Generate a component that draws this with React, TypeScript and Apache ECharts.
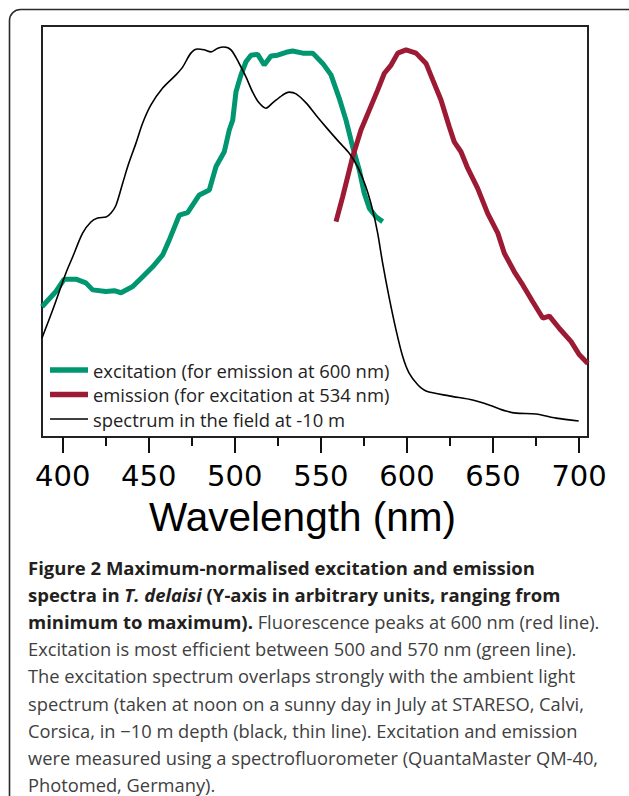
import React, { useEffect, useRef } from "react";
import * as echarts from "echarts";

// Wavelengths (nm) and normalised values (0 = minimum, 100 = maximum of plot box)
const spectrumNm = [388, 394.2, 401.9, 405.8, 411.6, 416.4, 420.3, 425.2, 428.1, 431, 434.9, 438.5, 442.6, 446.5, 451.3, 458.1, 465.8, 469.7, 474.5, 478.4, 482.1, 486.2, 490.1, 493.7, 497.8, 502.4, 506.5, 510.4, 514.1, 518.1, 522, 527.8, 531.5, 535.6, 541.4, 547.2, 553, 560.5, 566.4, 571.4, 576.2, 580.1, 583, 585.9, 589.6, 593.7, 597.6, 601.2, 606.3, 611.1, 624.5, 638.2, 647.7, 657.6, 663.4, 675, 686.6, 699.8];
const spectrumVal = [24.1, 30.9, 39.9, 43.8, 49.6, 52.3, 53.3, 53.5, 54.5, 56.4, 61.8, 66.7, 71.5, 76.4, 80.8, 84.9, 88.1, 90, 93.4, 94.4, 94.2, 93.7, 94.6, 94.9, 94.2, 91, 87.6, 83.9, 81.3, 80, 81.3, 83.2, 83.9, 83.5, 81.3, 78.3, 75.4, 71.8, 69.1, 65.7, 60.8, 55.2, 49.6, 42.3, 34.1, 26, 19.5, 15.6, 12.7, 11.2, 10, 9, 7.8, 6.3, 5.8, 5.6, 4.6, 3.9];

const excitationNm = [388, 396.1, 400.9, 407.7, 413.5, 417.4, 425.2, 430, 433.9, 440.7, 446.5, 452.3, 458.1, 461.9, 467.8, 472.6, 479.4, 485.2, 489.1, 493.9, 496.8, 498.8, 500.7, 503.6, 506.5, 509.4, 513.3, 517.1, 521, 524.9, 529.8, 533.6, 539.5, 545.3, 551.1, 555.9, 560.7, 564.6, 568.5, 572.3, 575.2, 578.2, 582, 585.9];
const excitationVal = [31.7, 35.4, 38.4, 38.4, 37.5, 35.8, 35.4, 35.6, 35.1, 36.6, 39, 41.4, 44.3, 47.9, 54, 54.6, 58.9, 60.1, 65.8, 69.4, 74.7, 77.1, 84, 88.1, 91.3, 92.9, 93.1, 90.5, 92.7, 92.9, 93.6, 93.9, 93.4, 93.4, 90.9, 88.1, 82.4, 77.1, 70.6, 65, 59.3, 55.6, 53.6, 52.4];

const emissionNm = [558.8, 562.7, 568.5, 573.3, 578.2, 583, 586.9, 590.8, 594.7, 599.5, 605.3, 611.1, 615, 619.8, 624.6, 627.5, 631.4, 635.3, 641.1, 646.9, 652.8, 656.6, 662.4, 667.3, 673.1, 679, 682.8, 688.6, 695.4, 700.2, 705.1];
const emissionVal = [52.4, 58.5, 68.2, 74.7, 79.6, 84.4, 88.5, 90.5, 93.4, 94.2, 93.4, 90.9, 86.9, 82, 75.5, 71.8, 69.4, 65.4, 60.5, 54.4, 49.6, 44.7, 40.2, 37, 32.9, 28.9, 29.4, 26.4, 23.2, 20, 17.9];

const majorTicks = [400, 450, 500, 550, 600, 650, 700];
const minorTicks = [425, 475, 525, 575, 625, 675];

const seriesNames = [
  "excitation (for emission at 600 nm)",
  "emission (for excitation at 534 nm)",
  "spectrum in the field at -10 m",
];
const axisTitle = "Wavelength (nm)";

const captionLines = [
  "{b|Figure 2 Maximum-normalised excitation and emission}",
  "{b|spectra in }{bi|T. delaisi}{b| (Y-axis in arbitrary units, ranging from}",
  "{b|minimum to maximum).}{r| Fluorescence peaks at 600 nm (red line).}",
  "{r|Excitation is most efficient between 500 and 570 nm (green line).}",
  "{r|The excitation spectrum overlaps strongly with the ambient light}",
  "{r|spectrum (taken at noon on a sunny day in July at STARESO, Calvi,}",
  "{r|Corsica, in \u221210 m depth (black, thin line). Excitation and emission}",
  "{r|were measured using a spectrofluorometer (QuantaMaster QM-40,}",
  "{r|Photomed, Germany).}",
];

const GREEN = "#00966f";
const RED = "#9c1a33";

function pairs(xs: number[], ys: number[]) {
  return xs.map((x, i) => [x, ys[i]]);
}

export default function App() {
  const ref = useRef<HTMLDivElement>(null);
  useEffect(() => {
    if (!ref.current) return;
    const chart = echarts.init(ref.current, undefined, { renderer: "svg" });
    const capFont = "Open Sans";
    const rich = {
      b: { fontFamily: capFont, fontSize: 18.5, fontWeight: "bold", fill: "#231f20", color: "#231f20" },
      bi: { fontFamily: capFont, fontSize: 18.5, fontWeight: "bold", fontStyle: "italic", fill: "#231f20", color: "#231f20" },
      r: { fontFamily: capFont, fontSize: 18.3, fontWeight: "normal", fill: "#404040", color: "#404040" },
    };
    const captionGraphics = captionLines.map((t, i) => ({
      type: "text",
      x: 28,
      y: 572.5 + i * 27.2 - 5.5,
      style: { text: t, rich, verticalAlign: "middle", align: "left" },
      silent: true,
    }));
    chart.setOption({
      animation: false,
      backgroundColor: "#ffffff",
      grid: {
        left: 42,
        right: 41,
        top: 26,
        bottom: 359,
        show: true,
        borderColor: "#222",
        borderWidth: 2,
        containLabel: false,
      },
      legend: {
        show: true,
        orient: "vertical",
        left: 50,
        top: 360,
        padding: 0,
        itemWidth: 38,
        itemHeight: 20,
        itemGap: 4.5,
        itemStyle: { borderWidth: 0 },
        data: [
          { name: seriesNames[0], icon: "path://M0,0H38V5.5H0Z", itemStyle: { color: GREEN } },
          { name: seriesNames[1], icon: "path://M0,0H38V5.5H0Z", itemStyle: { color: RED } },
          { name: seriesNames[2], icon: "path://M0,0H38V1.6H0Z", itemStyle: { color: "#000" } },
        ],
        textStyle: { fontFamily: "Open Sans", fontSize: 18.4, color: "#222", lineHeight: 20 },
        inactiveColor: "#ccc",
      },
      xAxis: [
        {
          type: "value",
          min: 388,
          max: 705.2,
          position: "bottom",
          name: axisTitle,
          nameLocation: "middle",
          nameGap: 59,
          nameTextStyle: {
            fontFamily: "Liberation Sans",
            fontSize: 40.5,
            color: "#000",
            padding: [0, 25, 0, 0],
          },
          axisLine: { show: true, lineStyle: { color: "#222", width: 2 } },
          axisTick: {
            show: true,
            inside: false,
            length: 16,
            customValues: majorTicks,
            lineStyle: { color: "#111", width: 2 },
          },
          axisLabel: {
            show: true,
            customValues: majorTicks,
            margin: 24,
            fontFamily: "DejaVu Sans",
            fontSize: 29,
            color: "#000",
          },
          splitLine: { show: false },
        },
        {
          type: "value",
          min: 388,
          max: 705.2,
          position: "bottom",
          axisLine: { show: false },
          axisTick: {
            show: true,
            inside: false,
            length: 9,
            customValues: minorTicks,
            lineStyle: { color: "#111", width: 2 },
          },
          axisLabel: { show: false },
          splitLine: { show: false },
        },
      ],
      yAxis: {
        type: "value",
        min: 0,
        max: 100,
        show: false,
        splitLine: { show: false },
      },
      series: [
        {
          name: seriesNames[0],
          type: "line",
          data: pairs(excitationNm, excitationVal),
          showSymbol: false,
          symbol: "none",
          lineStyle: { color: GREEN, width: 5 },
          itemStyle: { color: GREEN },
          clip: true,
          z: 2,
        },
        {
          name: seriesNames[1],
          type: "line",
          data: pairs(emissionNm, emissionVal),
          showSymbol: false,
          symbol: "none",
          lineStyle: { color: RED, width: 5 },
          itemStyle: { color: RED },
          clip: true,
          z: 3,
        },
        {
          name: seriesNames[2],
          type: "line",
          data: pairs(spectrumNm, spectrumVal),
          showSymbol: false,
          symbol: "none",
          smooth: 0.3,
          lineStyle: { color: "#000", width: 1.6 },
          itemStyle: { color: "#000" },
          clip: true,
          z: 4,
        },
      ],
      graphic: [
        {
          type: "rect",
          shape: { x: 9.5, y: 9.5, width: 640, height: 820, r: 11 },
          style: { fill: "none", stroke: "#2a2a2a", lineWidth: 1.6 },
          silent: true,
          z: -1,
        },
        ...captionGraphics,
      ],
    });
    return () => chart.dispose();
  }, []);
  return (
    <div
      ref={ref}
      style={{ position: "absolute", left: 0, top: 0, width: 629, height: 796 }}
    />
  );
}
